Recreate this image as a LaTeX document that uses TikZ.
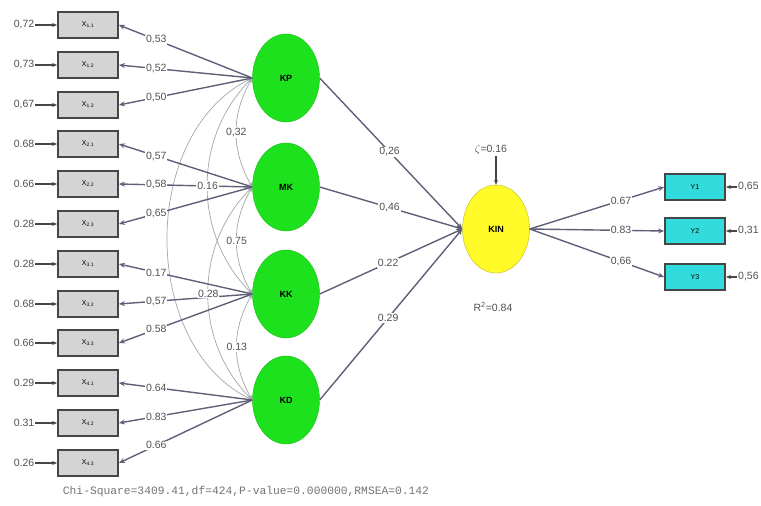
\documentclass[tikz,border=0pt]{standalone}
\usepackage{fontspec}
\setmainfont{Liberation Sans}
\newfontfamily\fitfont{Liberation Mono}
\usetikzlibrary{shapes.geometric,arrows.meta}
\definecolor{latgreen}{RGB}{30,225,30}
\definecolor{latyellow}{RGB}{255,250,40}
\definecolor{boxgray}{RGB}{212,212,212}
\definecolor{boxcyan}{RGB}{50,220,220}
\definecolor{boxline}{RGB}{70,70,70}
\definecolor{numgray}{RGB}{80,80,80}
\definecolor{pathcol}{RGB}{95,95,120}
\definecolor{arccol}{RGB}{165,165,175}
\begin{document}
\begin{tikzpicture}
[x=1pt,y=-1pt,
obs/.style={rectangle,draw=boxline,line width=1.8pt,fill=boxgray,minimum width=60pt,minimum height=26pt,inner sep=0pt,font=\fontsize{7}{8}\selectfont},
yobs/.style={obs,fill=boxcyan},
latent/.style={ellipse,fill=latgreen,draw=latgreen!85!black,minimum width=67pt,minimum height=88pt,inner sep=0pt,font=\bfseries\fontsize{9}{10}\selectfont},
endo/.style={latent,fill=latyellow,draw=latyellow!75!black},
num/.style={font=\fontsize{10.5}{12}\selectfont,text=numgray,inner sep=1pt},
lab/.style={num,fill=white},
load/.style={draw=pathcol,line width=1.4pt,-{Stealth[length=6pt,width=5pt]}},
err/.style={draw=boxline,line width=1.1pt,-{Stealth[length=5pt,width=4pt]}},
corr/.style={draw=arccol,line width=0.7pt,{Stealth[length=5pt,width=3.5pt]}-{Stealth[length=5pt,width=3.5pt]}}
]
\useasboundingbox (0,0) rectangle (761,506);
\node[latent] (kp) at (286,78) {KP};
\node[latent] (mk) at (286,187) {MK};
\node[latent] (kk) at (286,294) {KK};
\node[latent] (kd) at (286,400) {KD};
\node[endo] (kin) at (496,229) {KIN};

\node[obs] (x11) at (88,25) {X\textsubscript{1.1}};
\node[obs] (x12) at (88,65) {X\textsubscript{1.2}};
\node[obs] (x13) at (88,105) {X\textsubscript{1.3}};
\node[obs] (x21) at (88,144) {X\textsubscript{2.1}};
\node[obs] (x22) at (88,184) {X\textsubscript{2.2}};
\node[obs] (x23) at (88,224) {X\textsubscript{2.3}};
\node[obs] (x31) at (88,264) {X\textsubscript{3.1}};
\node[obs] (x32) at (88,304) {X\textsubscript{3.2}};
\node[obs] (x33) at (88,343) {X\textsubscript{3.3}};
\node[obs] (x41) at (88,383) {X\textsubscript{4.1}};
\node[obs] (x42) at (88,423) {X\textsubscript{4.2}};
\node[obs] (x43) at (88,463) {X\textsubscript{4.3}};

\node[num] (e11) at (24,25) {0,72};
\node[num] (e12) at (24,65) {0,73};
\node[num] (e13) at (24,105) {0,67};
\node[num] (e21) at (24,144) {0.68};
\node[num] (e22) at (24,184) {0.66};
\node[num] (e23) at (24,224) {0.28};
\node[num] (e31) at (24,264) {0.28};
\node[num] (e32) at (24,304) {0.68};
\node[num] (e33) at (24,343) {0.66};
\node[num] (e41) at (24,383) {0.29};
\node[num] (e42) at (24,423) {0.31};
\node[num] (e43) at (24,463) {0.26};
\draw[err] (e11) -- (x11);
\draw[err] (e12) -- (x12);
\draw[err] (e13) -- (x13);
\draw[err] (e21) -- (x21);
\draw[err] (e22) -- (x22);
\draw[err] (e23) -- (x23);
\draw[err] (e31) -- (x31);
\draw[err] (e32) -- (x32);
\draw[err] (e33) -- (x33);
\draw[err] (e41) -- (x41);
\draw[err] (e42) -- (x42);
\draw[err] (e43) -- (x43);

\draw[corr] (kp.west) to[bend right=30] node[lab,midway] {0,32} (mk.west);
\draw[corr] (mk.west) to[bend right=30] node[lab,midway] {0.75} (kk.west);
\draw[corr] (kk.west) to[bend right=30] node[lab,midway] {0.13} (kd.west);
\draw[corr] (kp.west) to[bend right=45] (kk.west);
\draw[corr] (mk.west) to[bend right=45] (kd.west);
\draw[corr] (kp.west) to[bend right=64] (kd.west);

\draw[load] (kp.west) -- node[lab,pos=.72] {0,53} (x11.east);
\draw[load] (kp.west) -- node[lab,pos=.72] {0,52} (x12.east);
\draw[load] (kp.west) -- node[lab,pos=.72] {0,50} (x13.east);
\draw[load] (mk.west) -- node[lab,pos=.72] {0,57} (x21.east);
\draw[load] (mk.west) -- node[lab,pos=.72] {0,58} (x22.east);
\draw[load] (mk.west) -- node[lab,pos=.72] {0,65} (x23.east);
\draw[load] (kk.west) -- node[lab,pos=.72] {0.17} (x31.east);
\draw[load] (kk.west) -- node[lab,pos=.72] {0,57} (x32.east);
\draw[load] (kk.west) -- node[lab,pos=.72] {0.58} (x33.east);
\draw[load] (kd.west) -- node[lab,pos=.72] {0.64} (x41.east);
\draw[load] (kd.west) -- node[lab,pos=.72] {0.83} (x42.east);
\draw[load] (kd.west) -- node[lab,pos=.72] {0.66} (x43.east);
\path (kp.west) to[bend right=45] node[lab,midway] {0.16} (kk.west);
\path (mk.west) to[bend right=45] node[lab,midway] {0.28} (kd.west);

\draw[load] (kp.east) -- node[lab,pos=.49] {0,26} (kin.west);
\draw[load] (mk.east) -- node[lab,pos=.49] {0,46} (kin.west);
\draw[load] (kk.east) -- node[lab,pos=.48] {0.22} (kin.west);
\draw[load] (kd.east) -- node[lab,pos=.48] {0.29} (kin.west);

\node[num] (zeta) at (491,150) {$\zeta$=0.16};
\draw[err] (zeta.south -| kin.north) -- (kin.north);
\node[num] (r2) at (493,307) {R\textsuperscript{2}=0.84};

\node[yobs] (y1) at (695,187) {Y1};
\node[yobs] (y2) at (695,231) {Y2};
\node[yobs] (y3) at (695,277) {Y3};
\draw[load] (kin.east) -- node[lab,pos=.68] {0.67} (y1.west);
\draw[load] (kin.east) -- node[lab,pos=.68] {0.83} (y2.west);
\draw[load] (kin.east) -- node[lab,pos=.68] {0,66} (y3.west);
\node[num,anchor=west] (ey1) at (737,187) {0,65};
\node[num,anchor=west] (ey2) at (737,231) {0,31};
\node[num,anchor=west] (ey3) at (737,277) {0,56};
\draw[err] (ey1) -- (y1);
\draw[err] (ey2) -- (y2);
\draw[err] (ey3) -- (y3);

\node[font=\fitfont\fontsize{11.3}{13}\selectfont,text=numgray!80] (fit) at (246,492) {Chi-Square=3409.41,df=424,P-value=0.000000,RMSEA=0.142};
\end{tikzpicture}
\end{document}
